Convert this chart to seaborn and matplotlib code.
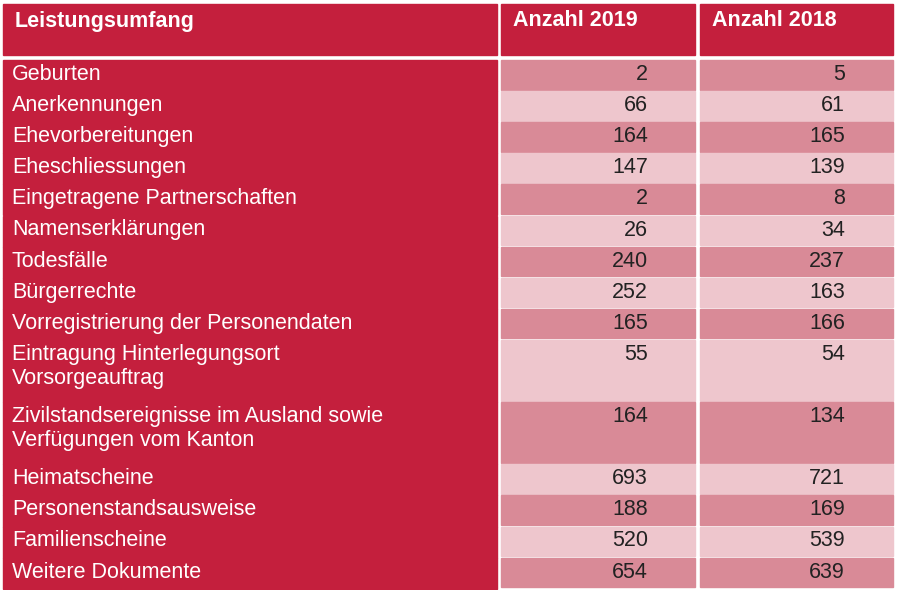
import matplotlib
matplotlib.use("Agg")
import seaborn as sns
from matplotlib import pyplot as plt
from matplotlib.patches import Rectangle

sns.set_theme(style="white")
plt.rcParams['font.family'] = ['Liberation Sans', 'DejaVu Sans']

header = ["Leistungsumfang", "Anzahl 2019", "Anzahl 2018"]
labels = ["Geburten", "Anerkennungen", "Ehevorbereitungen", "Eheschliessungen",
          "Eingetragene Partnerschaften", "Namenserklärungen", "Todesfälle",
          "Bürgerrechte", "Vorregistrierung der Personendaten",
          "Eintragung Hinterlegungsort\nVorsorgeauftrag",
          "Zivilstandsereignisse im Ausland sowie\nVerfügungen vom Kanton",
          "Heimatscheine", "Personenstandsausweise", "Familienscheine",
          "Weitere Dokumente"]
values_2019 = [2, 66, 164, 147, 2, 26, 240, 252, 165, 55, 164, 693, 188, 520, 654]
values_2018 = [5, 61, 165, 139, 8, 34, 237, 163, 166, 54, 134, 721, 169, 539, 639]

crimson = "#c41f3d"
dark = "#d98a97"
light = "#eec6cd"

fig = plt.figure(figsize=(8.97, 5.9), dpi=100)
ax = fig.add_axes([0, 0, 1, 1])
ax.set_xlim(0, 897)
ax.set_ylim(590, 0)
ax.axis('off')

cols = [(3, 497), (501, 695), (700, 893)]
num_x = [648, 845]

# header
for (x0, x1), h in zip(cols, header):
    ax.add_patch(Rectangle((x0, 4), x1 - x0, 51, color=crimson))
    ax.text(x0 + 12, 21, h, color="white", fontsize=15.5, fontweight="bold", va="center")

unit = 31.1
y = 60
for i, lab in enumerate(labels):
    n = lab.count("\n") + 1
    h = unit * n
    shade = dark if i % 2 == 0 else light
    ax.add_patch(Rectangle((cols[0][0], y), cols[0][1] - cols[0][0], h, color=crimson))
    for (x0, x1) in cols[1:]:
        ax.add_patch(Rectangle((x0, y), x1 - x0, h - 1.5, color=shade))
    ax.text(12, y + 4, lab, color="white", fontsize=15.5, va="top", linespacing=1.2)
    for xv, v in zip(num_x, (values_2019[i], values_2018[i])):
        ax.text(xv, y + 4, str(v), color="#222222", fontsize=15.5, va="top", ha="right")
    y += h

fig.savefig("out.png", dpi=100)
